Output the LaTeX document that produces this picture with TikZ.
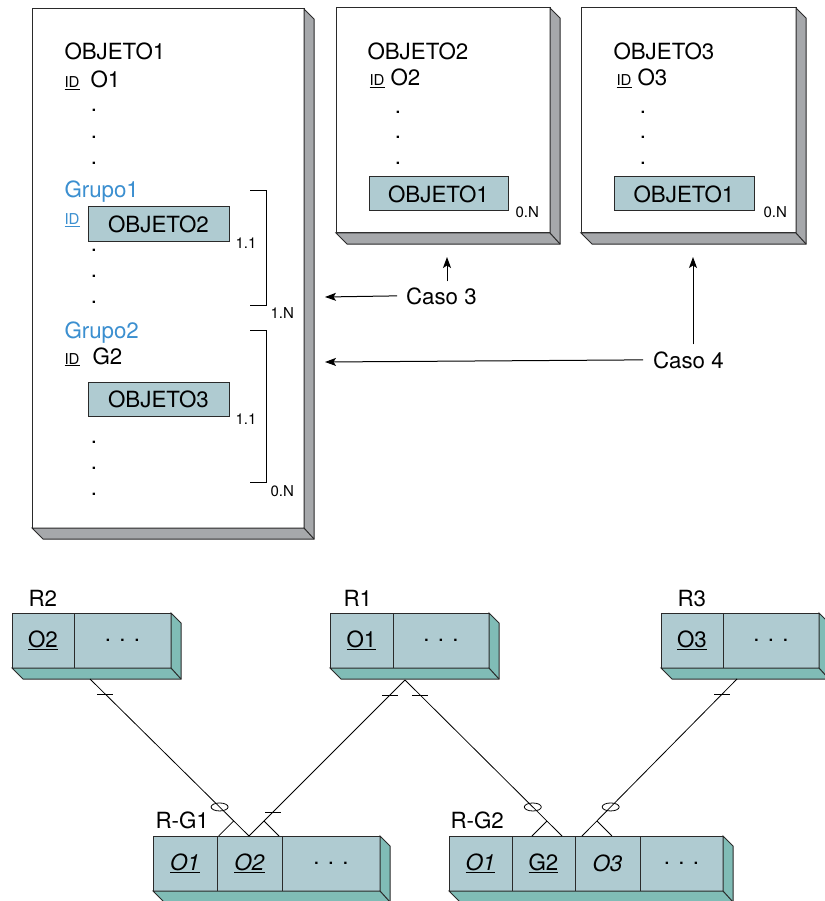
\documentclass[tikz,border=0pt]{standalone}
\usepackage{fontspec}
\setmainfont{TeX Gyre Heros}
\usetikzlibrary{calc,arrows.meta}
\definecolor{cellfill}{HTML}{AFCBD1}
\definecolor{tealshade}{HTML}{80BCB6}
\definecolor{grayshade}{HTML}{A6A8AB}
\definecolor{grpblue}{HTML}{3B8FD0}
\definecolor{edge}{HTML}{2A2A2A}
\newcommand\bigf{\fontsize{22.3}{25}\selectfont}
\newcommand\smallf{\fontsize{15}{17}\selectfont}
\newcommand\depthbox[3]{%
  \filldraw[fill=#3, draw=edge, line join=miter] (#2.north east) -- ++(10,10) -- ($(#2.south east)+(10,11)$) -- ($(#1.south west)+(11,11)$) -- (#1.south west) -- (#2.south east) -- cycle;
  \draw[edge] (#2.south east) -- ++(10,11);
}
\begin{document}
\begin{tikzpicture}[x=1pt,y=-1pt, line width=1pt,
  frame/.style={draw=edge, fill=white, anchor=north west, inner sep=0, outer sep=0},
  inbox/.style={draw=edge, fill=cellfill, anchor=north west, inner sep=0, outer sep=0, minimum height=34, font=\bigf},
  cell/.style={draw=edge, fill=cellfill, anchor=north west, inner sep=0, outer sep=0, minimum height=55, font=\bigf},
  lbl/.style={anchor=base west, inner sep=0, font=\bigf},
  sml/.style={anchor=base west, inner sep=0, font=\smallf},
  dotn/.style={inner sep=0, font=\bigf},
  arr/.style={-{Stealth[length=11pt,width=8pt,inset=2.5pt]}, line width=1pt},
  conn/.style={line width=0.8pt},
  tick/.style={line width=0.8pt},
]
\useasboundingbox (0,0) rectangle (824,901);

% ---------- top frames ----------
\node[frame, minimum width=272, minimum height=519] (f1) at (32,9) {};
\depthbox{f1}{f1}{grayshade}
\node[frame, minimum width=214, minimum height=225] (f2) at (336,8) {};
\depthbox{f2}{f2}{grayshade}
\node[frame, minimum width=215, minimum height=225] (f3) at (581,8) {};
\depthbox{f3}{f3}{grayshade}

% frame 1 content
\node[lbl] (t1) at (64,60) {OBJETO1};
\node[sml] (id1) at (64,88) {\underline{ID}};
\node[lbl] (o1) at (90,88) {O1};
\node[dotn] (d11) at (94,110) {.};
\node[dotn] (d12) at (94,137) {.};
\node[dotn] (d13) at (94,163) {.};
\node[lbl, text=grpblue] (g1) at (64,198) {Grupo1};
\node[sml, text=grpblue] (idg1) at (64,225) {\underline{ID}};
\node[inbox, minimum width=141] (ob2) at (88,207) {OBJETO2};
\node[sml] (c11) at (235,248) {1.1};
\node[dotn] (d14) at (94,250) {.};
\node[dotn] (d15) at (94,276) {.};
\node[dotn] (d16) at (94,302) {.};
\draw (250,191) -- (266,191) -- (266,305) -- (250,305);
\node[sml] (c1n) at (270,318) {1.N};
\node[lbl, text=grpblue] (g2) at (64,338) {Grupo2};
\node[sml] (idg2) at (64,364) {\underline{ID}};
\node[lbl] (g2t) at (92,364) {G2};
\node[inbox, minimum width=141] (ob3) at (88,382) {OBJETO3};
\node[sml] (c12) at (235,424) {1.1};
\node[dotn] (d17) at (94,442) {.};
\node[dotn] (d18) at (94,468) {.};
\node[dotn] (d19) at (94,494) {.};
\draw (250,330) -- (266,330) -- (266,482) -- (250,482);
\node[sml] (c0n) at (270,496) {0.N};

% frame 2 content
\node[lbl] (t2) at (367,60) {OBJETO2};
\node[sml] (id2) at (369,86) {\underline{ID}};
\node[lbl] (o2) at (390,86) {O2};
\node[dotn] (d21) at (398,112) {.};
\node[dotn] (d22) at (398,137) {.};
\node[dotn] (d23) at (398,163) {.};
\node[inbox, minimum width=139] (ob1a) at (369,177) {OBJETO1};
\node[sml] (c2n) at (515,218) {0.N};

% frame 3 content
\node[lbl] (t3) at (613,60) {OBJETO3};
\node[sml] (id3) at (616,86) {\underline{ID}};
\node[lbl] (o3) at (637,86) {O3};
\node[dotn] (d31) at (643,112) {.};
\node[dotn] (d32) at (643,137) {.};
\node[dotn] (d33) at (643,163) {.};
\node[inbox, minimum width=140] (ob1b) at (614,177) {OBJETO1};
\node[sml] (c3n) at (763,218) {0.N};

% cases
\node[lbl, outer sep=0] (caso3) at (406,304) {Caso 3};
\node[lbl, outer sep=0] (caso4) at (653,368) {Caso 4};
\coordinate (c3l) at (325,297);
\coordinate (c3u) at (447,257);
\coordinate (c4l) at (325,362);
\coordinate (c4u) at (693,257);
\draw[arr] ($(caso3.west)+(-9,0)$) -- (c3l);
\draw[arr] ($(caso3.north -| c3u)+(0,-6)$) -- (c3u);
\draw[arr] ($(caso4.west)+(-10,0)$) -- (c4l);
\draw[arr] ($(caso4.north -| c4u)+(0,-7)$) -- (c4u);

% ---------- bottom relations ----------
\node[cell, minimum width=62] (r2a) at (12,613) {\underline{O2}};
\node[cell, minimum width=97] (r2b) at (74,613) {. . .};
\depthbox{r2a}{r2b}{tealshade}
\node[lbl] (r2l) at (28,606) {R2};

\node[cell, minimum width=63] (r1a) at (330,613) {\underline{O1}};
\node[cell, minimum width=96] (r1b) at (393,613) {. . .};
\depthbox{r1a}{r1b}{tealshade}
\node[lbl] (r1l) at (343,606) {R1};

\node[cell, minimum width=62] (r3a) at (661,613) {\underline{O3}};
\node[cell, minimum width=96] (r3b) at (723,613) {. . .};
\depthbox{r3a}{r3b}{tealshade}
\node[lbl] (r3l) at (677,606) {R3};

\node[cell, minimum width=64] (ga1) at (153,836) {\underline{\textit{O1}}};
\node[cell, minimum width=65] (ga2) at (217,836) {\underline{\textit{O2}}};
\node[cell, minimum width=98] (ga3) at (282,836) {. . .};
\depthbox{ga1}{ga3}{tealshade}
\node[lbl] (gal) at (155,828) {R-G1};

\node[cell, minimum width=63] (gb1) at (449,836) {\underline{\textit{O1}}};
\node[cell, minimum width=63] (gb2) at (512,836) {\underline{G2}};
\node[cell, minimum width=65] (gb3) at (575,836) {\textit{O3}};
\node[cell, minimum width=83] (gb4) at (640,836) {. . .};
\depthbox{gb1}{gb4}{tealshade}
\node[lbl] (gbl) at (450,828) {R-G2};

% connection points
\coordinate (r2dn) at (90,679);
\coordinate (r1dn) at (405,680);
\coordinate (r3dn) at (737,679);
\coordinate (gaup) at (249,836);
\coordinate (gbup1) at (562,836);
\coordinate (gbup2) at (582,836);

% L1: R2 -> R-G1
\draw[conn] (r2dn) -- (gaup) coordinate[pos=0.096] (l1t) coordinate[pos=0.815] (l1o) coordinate[pos=0.904] (l1c);
\draw[tick] ($(l1t)+(-8,0)$) -- ($(l1t)+(8,0)$);
\draw[conn] (l1o) ellipse [x radius=8.5pt, y radius=4pt];
\draw[conn] (l1c) -- ++(-15,15);

% L2: R1 -> R-G1
\draw[conn] (r1dn) -- (gaup) coordinate[pos=0.096] (l2t) coordinate[pos=0.846] (l2b) coordinate[pos=0.904] (l2c);
\draw[tick] ($(l2t)+(-8,0)$) -- ($(l2t)+(8,0)$);
\draw[tick] ($(l2b)+(-8,0)$) -- ($(l2b)+(8,0)$);
\draw[conn] (l2c) -- ++(15,15);

% L3: R1 -> R-G2
\draw[conn] (r1dn) -- (gbup1) coordinate[pos=0.096] (l3t) coordinate[pos=0.814] (l3o) coordinate[pos=0.904] (l3c);
\draw[tick] ($(l3t)+(-8,0)$) -- ($(l3t)+(8,0)$);
\draw[conn] (l3o) ellipse [x radius=8.5pt, y radius=4pt];
\draw[conn] (l3c) -- ++(-15,15);

% L4: R3 -> R-G2
\draw[conn] (r3dn) -- (gbup2) coordinate[pos=0.096] (l4t) coordinate[pos=0.815] (l4o) coordinate[pos=0.904] (l4c);
\draw[tick] ($(l4t)+(-8,0)$) -- ($(l4t)+(8,0)$);
\draw[conn] (l4o) ellipse [x radius=8.5pt, y radius=4pt];
\draw[conn] (l4c) -- ++(15,15);
\end{tikzpicture}
\end{document}
